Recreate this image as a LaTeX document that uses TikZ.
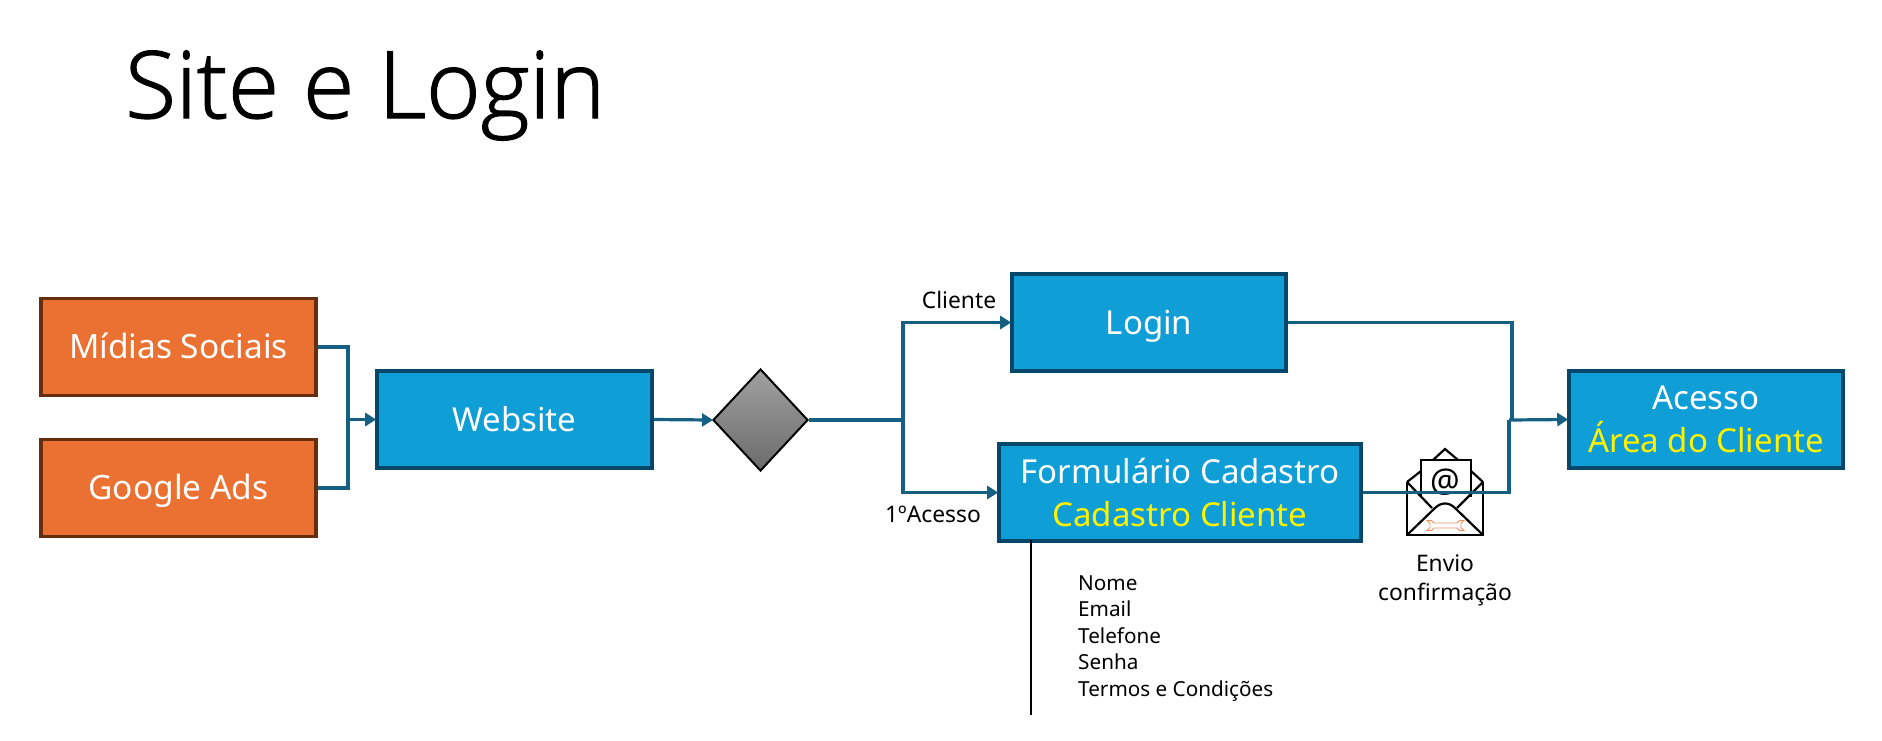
\documentclass[tikz,border=0pt]{standalone}
\usepackage{fontspec}
\setmainfont{Noto Sans}
\newfontfamily\titlefont[UprightFont=* Light,FakeBold=1.5]{Open Sans}
\usetikzlibrary{arrows.meta,shapes.geometric}
\definecolor{bluefill}{HTML}{109ED7}
\definecolor{blueline}{HTML}{05476A}
\definecolor{orangefill}{HTML}{EB7132}
\definecolor{orangeline}{HTML}{672E0E}
\definecolor{conn}{HTML}{156082}
\definecolor{wrench}{HTML}{F0905F}
\tikzset{
 box/.style={draw=blueline,fill=bluefill,line width=3.6pt,inner sep=0pt,text=white,align=center,font=\fontsize{33}{43}\selectfont},
 one/.style={text height=30pt,text depth=7pt},
 obox/.style={draw=orangeline,fill=orangefill,line width=3.6pt,inner sep=0pt,text=white,align=center,minimum width=275pt,minimum height=97pt,one,font=\fontsize{33.5}{40}\selectfont},
 wire/.style={draw=conn,line width=3.2pt},
 arrow/.style={wire,-{Triangle[length=11pt,width=13pt]},shorten >=-1pt},
 lbl/.style={text=black,inner sep=0pt,font=\fontsize{22.8}{29}\selectfont,align=center},
 env/.style={draw=black,line width=2.2pt,line join=miter},
}
\begin{document}
\begin{tikzpicture}[x=1pt,y=-1pt]
\useasboundingbox (0,0) rectangle (1882,740);
\node[inner sep=0pt,anchor=base west,text=black,font=\fontsize{93}{100}\titlefont] (title) at (125,118) {Site e Login};
\node[obox] (mid) at (178.5,347) {Mídias Sociais};
\node[obox] (goo) at (178.5,488) {Google Ads};
\node[box,one,minimum width=275pt,minimum height=97pt] (web) at (514.5,419.5) {Website};
\node[draw=black,line width=2pt,diamond,shape aspect=0.93,inner sep=0pt,minimum width=95pt,minimum height=102pt,top color=black!37,bottom color=black!58] (dec) at (760.5,420) {};
\node[box,one,minimum width=274pt,minimum height=97pt] (log) at (1149,322.5) {Login};
\node[box,minimum width=362pt,minimum height=97pt] (frm) at (1180,492.5) {Formulário Cadastro\\\textcolor{yellow}{Cadastro Cliente}};
\node[box,minimum width=274pt,minimum height=97pt] (ace) at (1706,419.5) {Acesso\\\textcolor{yellow}{Área do Cliente}};
\coordinate (j1) at (348,419.5);
\coordinate (j2) at (903,420);
\coordinate (j3) at (1512,420);
\coordinate (j4) at (1509,420);
\coordinate (lt) at (1031,540);
\coordinate (lb) at (1031,715);
% envelope
\draw[env] (1407,482) -- (1407,535) -- (1483,535) -- (1483,482);
\draw[env] (1407,482) -- (1421,471) (1483,482) -- (1471,471);
\draw[env] (1421,497) -- (1421,460) -- (1471,460) -- (1471,497);
\draw[env] (1433,460) -- (1445,449) -- (1458,460);
\draw[env] (1407,482) -- (1432,508) (1483,482) -- (1457,508);
\draw[env] (1407,535) -- (1435,508) .. controls (1441,502) and (1449,502) .. (1455,508) -- (1483,535);
\node[inner sep=0pt,font=\fontsize{33}{33}\selectfont] (at) at (1445,482) {@};
\draw[wrench,line width=0.9pt] (1434,523) -- (1457,523) .. controls (1458,520.5) and (1461,519.5) .. (1464,520.5) -- (1461,523.5) -- (1461,527.5) -- (1464,530.5) .. controls (1461,531.5) and (1458,530.5) .. (1457,528) -- (1434,528) .. controls (1433,530.5) and (1430,531.5) .. (1427,530.5) -- (1430,527.5) -- (1430,523.5) -- (1427,520.5) .. controls (1430,519.5) and (1433,520.5) .. (1434,523) -- cycle;
\draw[wire] (mid.east) -| (j1);
\draw[wire] (goo.east) -| (j1);
\draw[arrow] (j1) -- (web.west);
\draw[arrow] (web.east) -- (dec.west);
\draw[wire] (dec.east) -- (j2);
\draw[arrow] (j2) |- (log.west);
\draw[arrow] (j2) |- (frm.west);
\draw[wire] (log.east) -| (j3);
\draw[wire] (frm.east) -| (j4);
\draw[arrow] (j4) -- (ace.west);
\draw[black,line width=2.2pt] (lt) -- (lb);
\node[lbl] (cli) at (959,300) {Cliente};
\node[lbl] (pri) at (933,514) {1ºAcesso};
\node[lbl] (envio) at (1445,580) {Envio\\confirmação};
\node[lbl,anchor=north west,align=left,font=\fontsize{20.7}{26.5}\selectfont] (lista) at (1078,575.5) {Nome\\Email\\Telefone\\Senha\\Termos e Condições};
\end{tikzpicture}
\end{document}
